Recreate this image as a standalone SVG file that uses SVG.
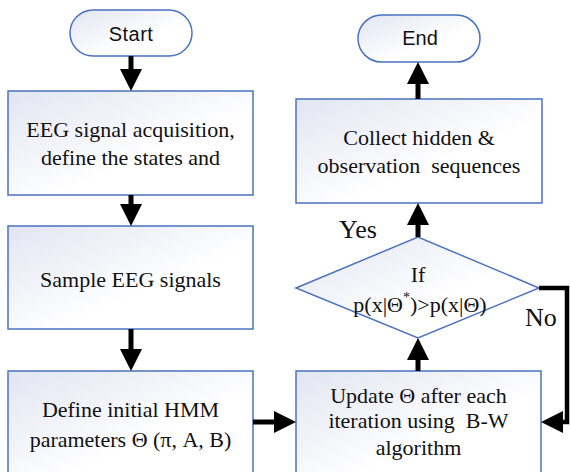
<svg xmlns="http://www.w3.org/2000/svg" width="571" height="472" viewBox="0 0 571 472">
<defs>
<linearGradient id="g" x1="0" y1="0" x2="1" y2="1">
<stop offset="0" stop-color="#e2e5f2"/>
<stop offset="0.6" stop-color="#ffffff"/>
<stop offset="1" stop-color="#ffffff"/>
</linearGradient>
<marker id="ah" markerUnits="userSpaceOnUse" markerWidth="22" markerHeight="22" refX="10" refY="11" orient="auto">
<path d="M0,0 L22,11 L0,22 Z" fill="#000"/>
</marker>
<style>
.shape{fill:url(#g);stroke:#4a72c0;stroke-width:1.5}
.c{fill:none;stroke:#000;stroke-width:5;marker-end:url(#ah)}
</style>
</defs>
<rect width="571" height="472" fill="#fff"/>
<g id="start">
<rect class="shape" x="70" y="10" width="122" height="46" rx="23"/>
<text x="131" y="41" font-family="Liberation Sans" font-size="20" letter-spacing="0.5" text-anchor="middle" fill="#111">Start</text>
</g>
<g id="acquire">
<rect class="shape" x="8" y="91" width="245" height="104"/>
<text x="130.5" y="137" font-family="Liberation Serif" font-size="22" text-anchor="middle" fill="#111">EEG signal acquisition,</text>
<text x="130.5" y="165" font-family="Liberation Serif" font-size="22" text-anchor="middle" fill="#111">define the states and</text>
</g>
<g id="sample">
<rect class="shape" x="8" y="226" width="245" height="103"/>
<text x="130.5" y="287" font-family="Liberation Serif" font-size="22" text-anchor="middle" fill="#111">Sample EEG signals</text>
</g>
<g id="define">
<rect class="shape" x="8" y="371" width="245" height="110"/>
<text x="130.5" y="417" font-family="Liberation Serif" font-size="22" text-anchor="middle" fill="#111">Define initial HMM</text>
<text x="130.5" y="447" font-family="Liberation Serif" font-size="22" text-anchor="middle" fill="#111">parameters Θ (π, A, B)</text>
</g>
<g id="update">
<rect class="shape" x="296" y="371" width="245" height="110"/>
<text x="418.5" y="403" font-family="Liberation Serif" font-size="22" text-anchor="middle" fill="#111">Update Θ after each</text>
<text x="418.5" y="428" font-family="Liberation Serif" font-size="22" text-anchor="middle" fill="#111" xml:space="preserve">iteration using  B-W</text>
<text x="418.5" y="455" font-family="Liberation Serif" font-size="22" text-anchor="middle" fill="#111">algorithm</text>
</g>
<g id="decision">
<polygon class="shape" points="296,288 418,237 539,288 418,338"/>
<text x="418" y="282" font-family="Liberation Serif" font-size="22" text-anchor="middle" fill="#111">If</text>
<text x="420" y="312" font-family="Liberation Serif" font-size="22" text-anchor="middle" fill="#111">p(x|Θ<tspan font-size="14" dy="-10">*</tspan><tspan dy="10">)&gt;p(x|Θ)</tspan></text>
</g>
<g id="collect">
<rect class="shape" x="296" y="99" width="246" height="104"/>
<text x="419" y="145" font-family="Liberation Serif" font-size="22" text-anchor="middle" fill="#111">Collect hidden &amp;</text>
<text x="419" y="173" font-family="Liberation Serif" font-size="22" text-anchor="middle" fill="#111" xml:space="preserve">observation  sequences</text>
</g>
<g id="end">
<rect class="shape" x="358" y="15" width="122" height="47" rx="23.5"/>
<text x="420" y="45" font-family="Liberation Sans" font-size="20" text-anchor="middle" fill="#111">End</text>
</g>
<g id="connectors">
<path class="c" d="M131,56 V79"/>
<path class="c" d="M131,195 V214"/>
<path class="c" d="M131,329 V359"/>
<path class="c" d="M253,422 H284"/>
<path class="c" d="M418,371 V350"/>
<path class="c" d="M418,237 V215"/>
<path class="c" d="M418,99 V74"/>
<path class="c" d="M539,288 H567 V422 H553" style="stroke-width:4.5"/>
<text x="339" y="238" font-family="Liberation Serif" font-size="26" fill="#111">Yes</text>
<text x="525" y="326" font-family="Liberation Serif" font-size="26" fill="#111">No</text>
</g>
</svg>
